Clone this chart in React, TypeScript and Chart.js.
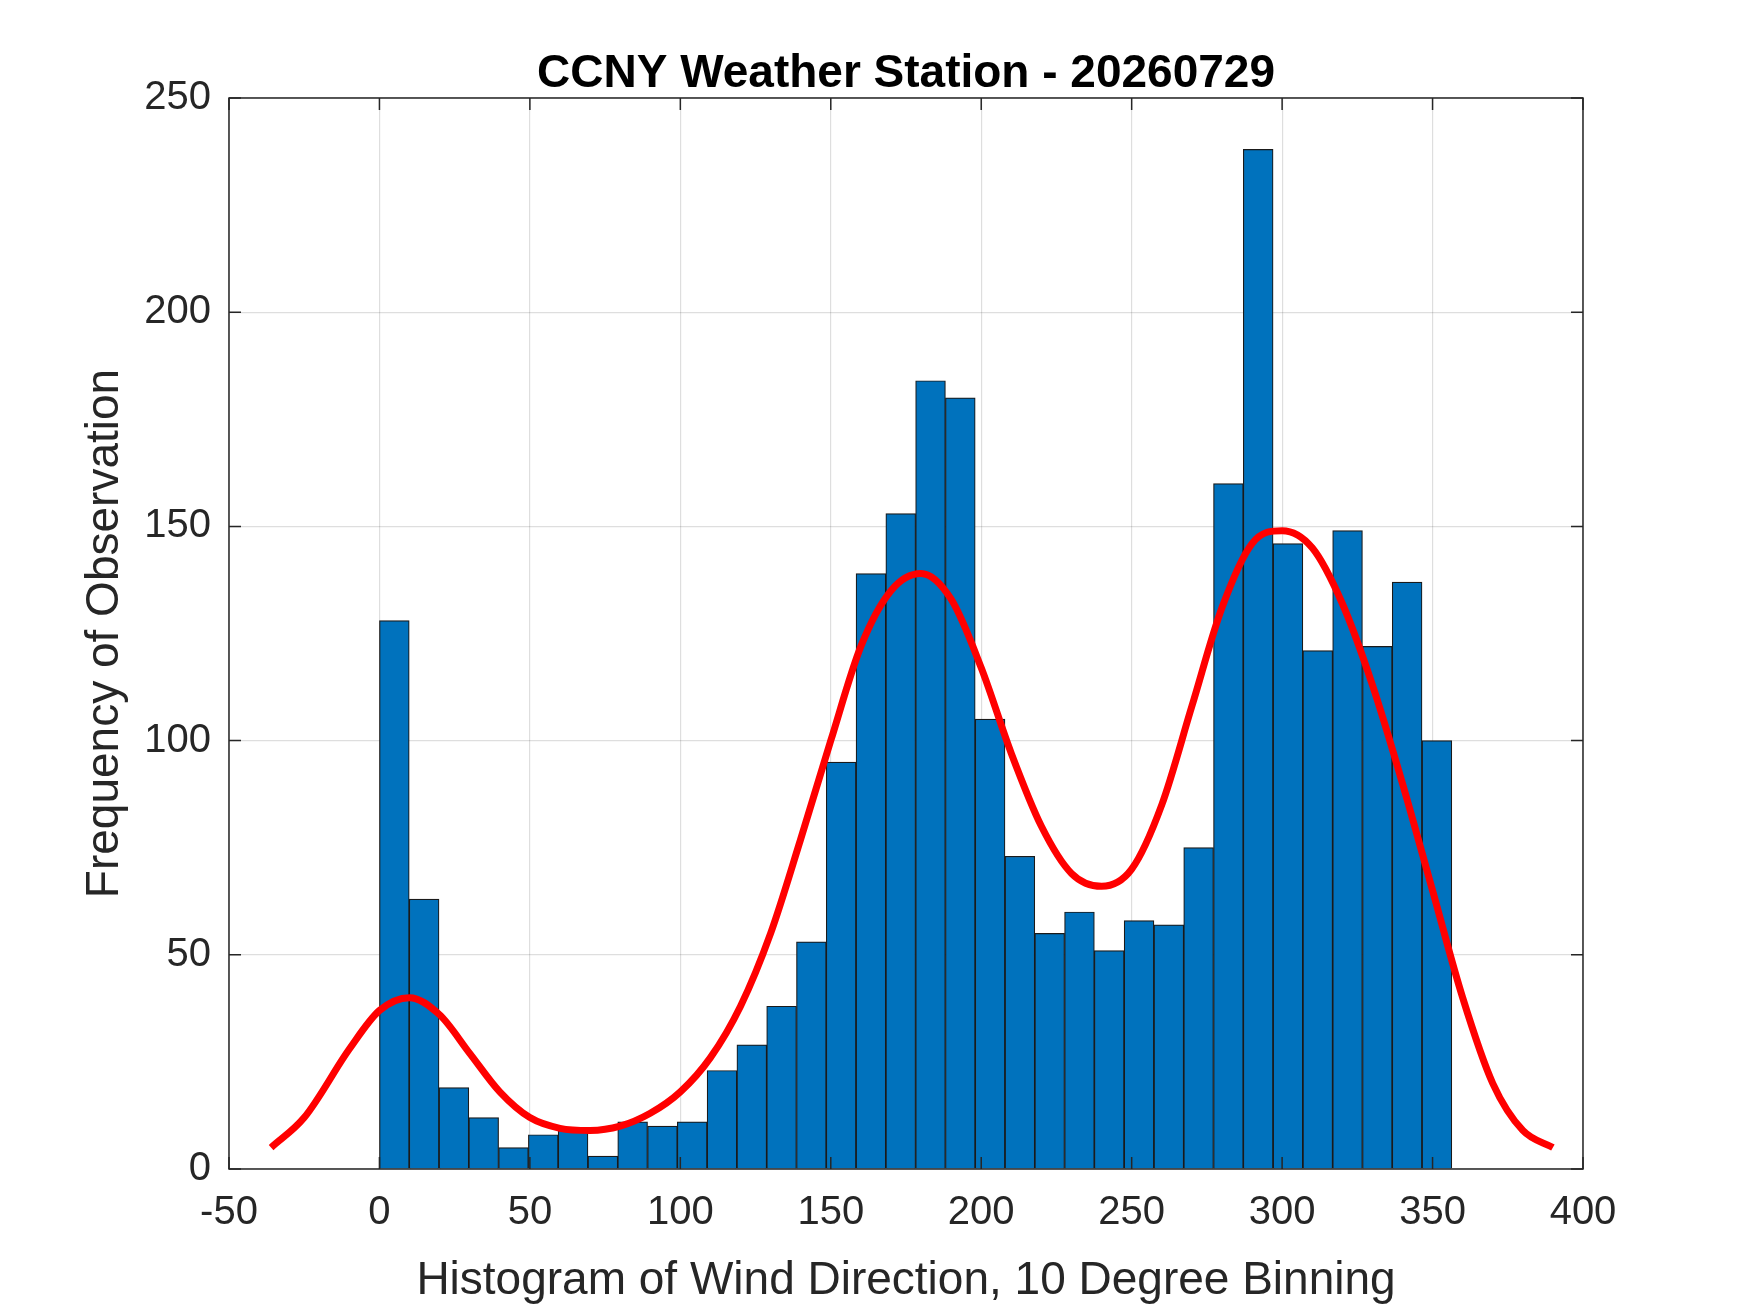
import React, { useEffect, useRef } from "react";
import { Chart, registerables } from "chart.js";
Chart.register(...registerables);

const binWidth = 9.9;
const counts = [128, 63, 19, 12, 5, 8, 9, 3, 11, 10, 11, 23, 29, 38, 53, 95, 139, 153, 184, 180, 105, 73, 55, 60, 51, 58, 57, 75, 160, 238, 146, 121, 149, 122, 137, 100];
const fitX = [-36, -25, -10, 0, 10, 20, 30, 40, 50, 60, 70, 80, 90, 100, 110, 120, 130, 140, 150, 160, 170, 180, 190, 200, 210, 220, 230, 240, 250, 260, 270, 280, 290, 300, 310, 320, 330, 340, 350, 360, 370, 380, 390];
const fitY = [5, 12, 28, 37, 40, 36, 27, 18, 12, 9.5, 9, 10, 13, 18, 26, 38, 55, 77, 100, 122, 135, 139, 133, 117, 97, 80, 69, 66, 70, 85, 108, 131, 146, 149, 145, 132, 113, 90, 65, 40, 20, 9, 5];
const xTicks = [-50, 0, 50, 100, 150, 200, 250, 300, 350, 400];
const yTicks = [0, 50, 100, 150, 200, 250];

export default function App() {
  const ref = useRef<HTMLCanvasElement>(null);
  useEffect(() => {
    const font = "'Liberation Sans', Arial, sans-serif";
    const frame = {
      id: "frame",
      afterDraw(c: any) {
        const { ctx, chartArea: a, scales } = c;
        ctx.save();
        ctx.strokeStyle = "#262626";
        ctx.lineWidth = 1.5;
        ctx.strokeRect(a.left, a.top, a.right - a.left, a.bottom - a.top);
        const tl = 12;
        ctx.beginPath();
        xTicks.forEach((t) => {
          const x = scales.x.getPixelForValue(t);
          ctx.moveTo(x, a.bottom); ctx.lineTo(x, a.bottom - tl);
          ctx.moveTo(x, a.top); ctx.lineTo(x, a.top + tl);
        });
        yTicks.forEach((t) => {
          const y = scales.y.getPixelForValue(t);
          ctx.moveTo(a.left, y); ctx.lineTo(a.left + tl, y);
          ctx.moveTo(a.right, y); ctx.lineTo(a.right - tl, y);
        });
        ctx.stroke();
        ctx.fillStyle = "#000";
        ctx.font = `bold 46px ${font}`;
        ctx.textAlign = "center";
        ctx.textBaseline = "middle";
        ctx.fillText("CCNY Weather Station - 20260729", (a.left + a.right) / 2, 66);
        ctx.restore();
      },
    };
    const chart = new Chart(ref.current!, {
      type: "bar",
      data: {
        datasets: [
          {
            type: "line",
            data: fitX.map((x, i) => ({ x, y: fitY[i] })),
            borderColor: "#ff0000",
            borderWidth: 7,
            pointRadius: 0,
            cubicInterpolationMode: "monotone",
            order: 0,
          } as any,
          {
            type: "bar",
            data: counts.map((v, i) => ({ x: binWidth / 2 + i * binWidth, y: v })),
            backgroundColor: "#0072BD",
            borderColor: "#1a1a1a",
            borderWidth: 1.2,
            barPercentage: 1,
            categoryPercentage: 1,
            order: 1,
          } as any,
        ],
      },
      options: {
        animation: false,
        responsive: false,
        layout: { padding: { top: 90, right: 175, left: 66, bottom: 0 } },
        plugins: { legend: { display: false }, tooltip: { enabled: false } },
        scales: {
          x: {
            type: "linear",
            min: -50,
            max: 400,
            offset: false,
            afterBuildTicks: (s: any) => { s.ticks = xTicks.map((v) => ({ value: v })); },
            afterFit: (s: any) => { s.height = 152; },
            grid: { color: "rgba(0,0,0,0.13)", drawTicks: false, lineWidth: 1.2, offset: false },
            border: { display: false },
            ticks: { color: "#262626", font: { family: font, size: 40 }, padding: 20 },
            title: { display: true, text: "Histogram of Wind Direction, 10 Degree Binning", color: "#262626", font: { family: font, size: 46 }, padding: { top: 0, bottom: 12 } },
          },
          y: {
            min: 0,
            max: 250,
            afterBuildTicks: (s: any) => { s.ticks = yTicks.map((v) => ({ value: v })); },
            afterFit: (s: any) => { s.width = 155; },
            grid: { color: "rgba(0,0,0,0.13)", drawTicks: false, lineWidth: 1.2 },
            border: { display: false },
            ticks: { color: "#262626", font: { family: font, size: 40 }, padding: 18 },
            title: { display: true, text: "Frequency of Observation", color: "#262626", font: { family: font, size: 46 }, padding: { bottom: 10 } },
          },
        },
      },
      plugins: [frame],
    } as any);
    return () => chart.destroy();
  }, []);
  return (
    <div style={{ background: "#fff", width: 1750, height: 1313 }}>
      <canvas ref={ref} width={1750} height={1313} style={{ display: "block" }} />
    </div>
  );
}
